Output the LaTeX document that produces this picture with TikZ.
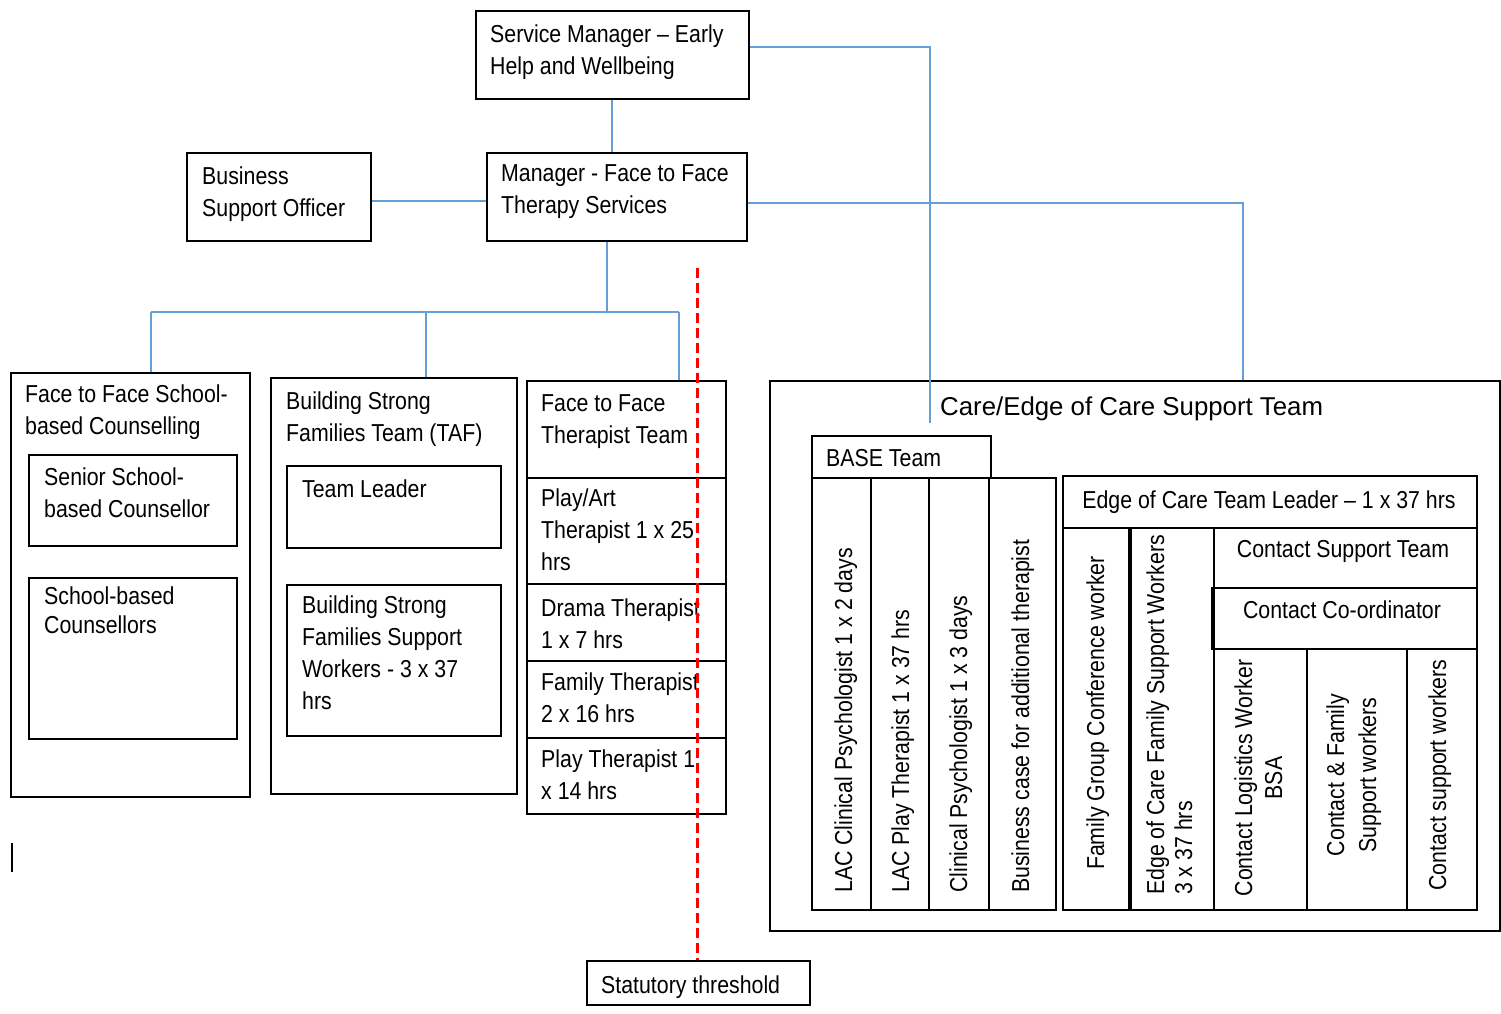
\documentclass[tikz,border=0pt]{standalone}
\usepackage{fontspec}
\setmainfont{Liberation Sans}[FakeStretch=0.87]
\newfontfamily\titlefont{Liberation Sans}
\newcommand\mainsz{\fontsize{24.5}{32}\selectfont}
\definecolor{conncol}{RGB}{100,160,215}
\begin{document}
\begin{tikzpicture}[x=1pt,y=-1pt,
  bx/.style={draw=black,line width=1.6pt,inner sep=0pt,anchor=north west},
  wh/.style 2 args={minimum width=#1pt,minimum height=#2pt},
  tx/.style={inner sep=0pt,anchor=base west,align=left,font=\mainsz},
  rtx/.style={inner sep=0pt,rotate=90,font=\mainsz},
  conn/.style={draw=conncol,line width=1.5pt},
  thr/.style={draw=red,line width=3pt,dash pattern=on 10pt off 5pt}]
\useasboundingbox (0,0) rectangle (1501,1013);
% (multi-line text nodes are placed by the baseline of their LAST line)

% top managers
\node[bx,wh={273}{88}] (sm) at (475,10) {};
\node[tx] (smt) at (490,74) {Service Manager – Early\\Help and Wellbeing};
\node[bx,wh={184}{88}] (bso) at (186,152) {};
\node[tx] (bsot) at (202,216) {Business\\Support Officer};
\node[bx,wh={260}{88}] (mgr) at (486,152) {};
\node[tx] (mgrt) at (501,213) {Manager - Face to Face\\Therapy Services};

% left column
\node[bx,wh={239}{424}] (ffs) at (10,372) {};
\node[tx] (ffst) at (25,434) {Face to Face School-\\based Counselling};
\node[bx,wh={208}{91}] (ssc) at (28,454) {};
\node[tx] (ssct) at (44,517) {Senior School-\\based Counsellor};
\node[bx,wh={208}{161}] (sbc) at (28,577) {};
\node[tx,font=\fontsize{24.5}{29}\selectfont] (sbct) at (44,633) {School-based\\Counsellors};

% middle column
\node[bx,wh={246}{416}] (bsf) at (270,377) {};
\node[tx] (bsft) at (286,441) {Building Strong\\Families Team (TAF)};
\node[bx,wh={214}{82}] (tl) at (286,465) {};
\node[tx] (tlt) at (302,497) {Team Leader};
\node[bx,wh={214}{151}] (bsw) at (286,584) {};
\node[tx] (bswt) at (302,709) {Building Strong\\Families Support\\Workers - 3 x 37\\hrs};

% therapist column
\node[bx,wh={199}{97}] (ftt) at (526,380) {};
\node[tx] (fttt) at (541,443) {Face to Face\\Therapist Team};
\node[bx,wh={199}{106}] (pat) at (526,477) {};
\node[tx] (patt) at (541,570) {Play/Art\\Therapist 1 x 25\\hrs};
\node[bx,wh={199}{77}] (dt) at (526,583) {};
\node[tx] (dtt) at (541,648) {Drama Therapist\\1 x 7 hrs};
\node[bx,wh={199}{77}] (ft) at (526,660) {};
\node[tx] (ftt2) at (541,722) {Family Therapist\\2 x 16 hrs};
\node[bx,wh={199}{76}] (pt) at (526,737) {};
\node[tx] (ptt) at (541,799) {Play Therapist 1\\x 14 hrs};

% statutory threshold
\node[bx,wh={223}{44}] (stat) at (586,960) {};
\node[tx] (statt) at (601,993) {Statutory threshold};

% care / edge of care
\node[bx,wh={730}{550}] (care) at (769,380) {};
\node[tx,font=\titlefont\fontsize{25.8}{30}\selectfont] (caret) at (940,415) {Care/Edge of Care Support Team};

% BASE team
\node[bx,wh={179}{42}] (baseh) at (811,435) {};
\node[tx] (baseht) at (826,466) {BASE Team};
\node[bx,wh={59}{432}] (bc1) at (811,477) {};
\node[bx,wh={58}{432}] (bc2) at (870,477) {};
\node[bx,wh={60}{432}] (bc3) at (928,477) {};
\node[bx,wh={67}{432}] (bc4) at (988,477) {};
\node[rtx,anchor=base west] (bc1t) at (852,893) {LAC Clinical Psychologist 1 x 2 days};
\node[rtx,anchor=base west] (bc2t) at (909,893) {LAC Play Therapist 1 x 37 hrs};
\node[rtx,anchor=base west] (bc3t) at (967,893) {Clinical Psychologist 1 x 3 days};
\node[rtx,anchor=base west] (bc4t) at (1029,893) {Business case for additional therapist};

% Edge of care team
\node[bx,wh={414}{52}] (eoch) at (1062,475) {};
\node[tx,anchor=base] (eocht) at (1269,508) {Edge of Care Team Leader – 1 x 37 hrs};
\node[bx,wh={68}{382}] (fgc) at (1062,527) {};
\node[rtx,anchor=base] (fgct) at (1104,713) {Family Group Conference worker};
\node[bx,wh={83}{382}] (fsw) at (1130,527) {};
\draw[line width=3.2pt] (fsw.north west) -- (fsw.south west);
\node[rtx,anchor=base west,align=left,font=\fontsize{24.5}{28}\selectfont] (fswt) at (1192,895) {Edge of Care Family Support Workers\\3 x 37 hrs};
\node[bx,wh={263}{60}] (cst) at (1213,527) {};
\node[tx,anchor=base] (cstt) at (1343,557) {Contact Support Team};
\node[bx,wh={265}{61}] (cc) at (1211,587) {};
\node[tx,anchor=base] (cct) at (1342,618) {Contact Co-ordinator};
\node[bx,wh={93}{261}] (clw) at (1213,648) {};
\node[bx,wh={100}{261}] (cfs) at (1306,648) {};
\node[bx,wh={70}{261}] (csw) at (1406,648) {};
\node[rtx,anchor=base,align=center,font=\fontsize{24.5}{30}\selectfont] (clwt) at (1282,778) {Contact Logistics Worker\\BSA};
\node[rtx,anchor=base,align=center,font=\fontsize{24.5}{32}\selectfont] (cfst) at (1376,775) {Contact \& Family\\Support workers};
\node[rtx,anchor=base] (cswt) at (1446,775) {Contact support workers};

% connectors
\coordinate (jA) at (930,47);
\coordinate (careIn) at (930,423);
\draw[conn] (sm.east |- jA) -- (jA) -- (careIn);
\coordinate (jB) at (1243,203);
\draw[conn] (mgr.east |- jB) -- (jB) -- (care.north -| jB);
\coordinate (jC) at (300,201);
\draw[conn] (bso.east |- jC) -- (mgr.west |- jC);
\coordinate (jD) at (612,100);
\draw[conn] (sm.south -| jD) -- (mgr.north -| jD);
\coordinate (bus) at (607,312);
\coordinate (b1) at (151,312);
\coordinate (b2) at (426,312);
\coordinate (b3) at (679,312);
\draw[conn] (mgr.south -| bus) -- (bus);
\draw[conn] (b1) -- (b3);
\draw[conn] (b1) -- (ffs.north -| b1);
\draw[conn] (b2) -- (bsf.north -| b2);
\draw[conn] (b3) -- (ftt.north -| b3);

% stray cursor mark
\coordinate (cur1) at (12,843);
\coordinate (cur2) at (12,872);
\draw[line width=1.5pt] (cur1) -- (cur2);

% statutory threshold line
\coordinate (rt) at (697,268);
\draw[thr] (rt) -- (stat.north -| rt);
\end{tikzpicture}
\end{document}
